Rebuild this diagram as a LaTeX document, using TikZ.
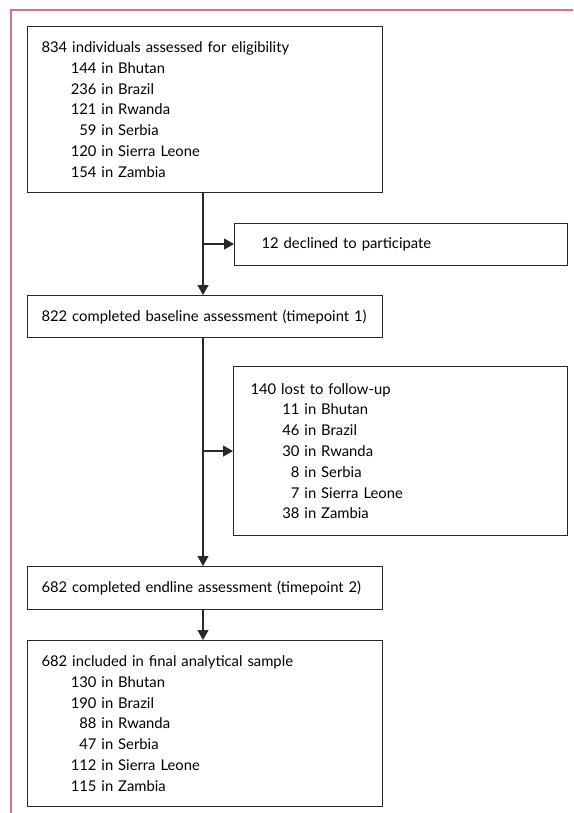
\documentclass[tikz,border=0pt]{standalone}
\usepackage{fontspec}
\setmainfont{Lato}
\usetikzlibrary{arrows.meta,calc}
\definecolor{framepink}{RGB}{218,112,146}
\definecolor{linegray}{RGB}{40,40,40}
\newcommand{\cn}[2]{\makebox[#1][r]{#2}}
\begin{document}
\begin{tikzpicture}[x=1pt,y=-1pt,
  box/.style={draw=linegray,line width=1.1pt,anchor=north west,align=left,
    inner xsep=14pt,inner ysep=0pt,text width=#1,
    font=\fontsize{14.8}{20.8}\selectfont},
  box/.default=327pt,
  arr/.style={draw=linegray,line width=1.2pt,-{Triangle[length=10pt,width=11pt]}}]
\useasboundingbox (0,0) rectangle (573,813);
\draw[framepink,line width=1.5pt] (11,813) -- (11,10) -- (573,10);
\coordinate (spine) at (203,0);
\node[box,minimum width=355pt,minimum height=166pt] (b1) at (27,26) {834 individuals assessed for eligibility\\
\cn{55pt}{144} in Bhutan\\
\cn{55pt}{236} in Brazil\\
\cn{55pt}{121} in Rwanda\\
\cn{55pt}{59} in Serbia\\
\cn{55pt}{120} in Sierra Leone\\
\cn{55pt}{154} in Zambia};
\node[box=279pt,inner xsep=27pt,minimum width=333pt,minimum height=42pt] (d1) at (234,222.5) {12 declined to participate};
\node[box,minimum width=355pt,minimum height=42pt] (b2) at (27,295) {822 completed baseline assessment (timepoint 1)};
\node[box=300pt,inner xsep=17pt,minimum width=334pt,minimum height=169pt] (l1) at (233,366) {140 lost to follow-up\\
\cn{49pt}{11} in Bhutan\\
\cn{49pt}{46} in Brazil\\
\cn{49pt}{30} in Rwanda\\
\cn{49pt}{8} in Serbia\\
\cn{49pt}{7} in Sierra Leone\\
\cn{49pt}{38} in Zambia};
\node[box,minimum width=355pt,minimum height=43pt] (b3) at (27,566) {682 completed endline assessment (timepoint 2)};
\node[box,minimum width=355pt,minimum height=166pt] (b4) at (27,640) {682 included in final analytical sample\\
\cn{55pt}{130} in Bhutan\\
\cn{55pt}{190} in Brazil\\
\cn{55pt}{88} in Rwanda\\
\cn{55pt}{47} in Serbia\\
\cn{55pt}{112} in Sierra Leone\\
\cn{55pt}{115} in Zambia};
\draw[arr] (b1.south -| spine) -- (b2.north -| spine);
\draw[arr] (d1.west -| spine) -- (d1.west);
\draw[arr] (b2.south -| spine) -- (b3.north -| spine);
\draw[arr] (l1.west -| spine) -- (l1.west);
\draw[arr] (b3.south -| spine) -- (b4.north -| spine);
\end{tikzpicture}
\end{document}
